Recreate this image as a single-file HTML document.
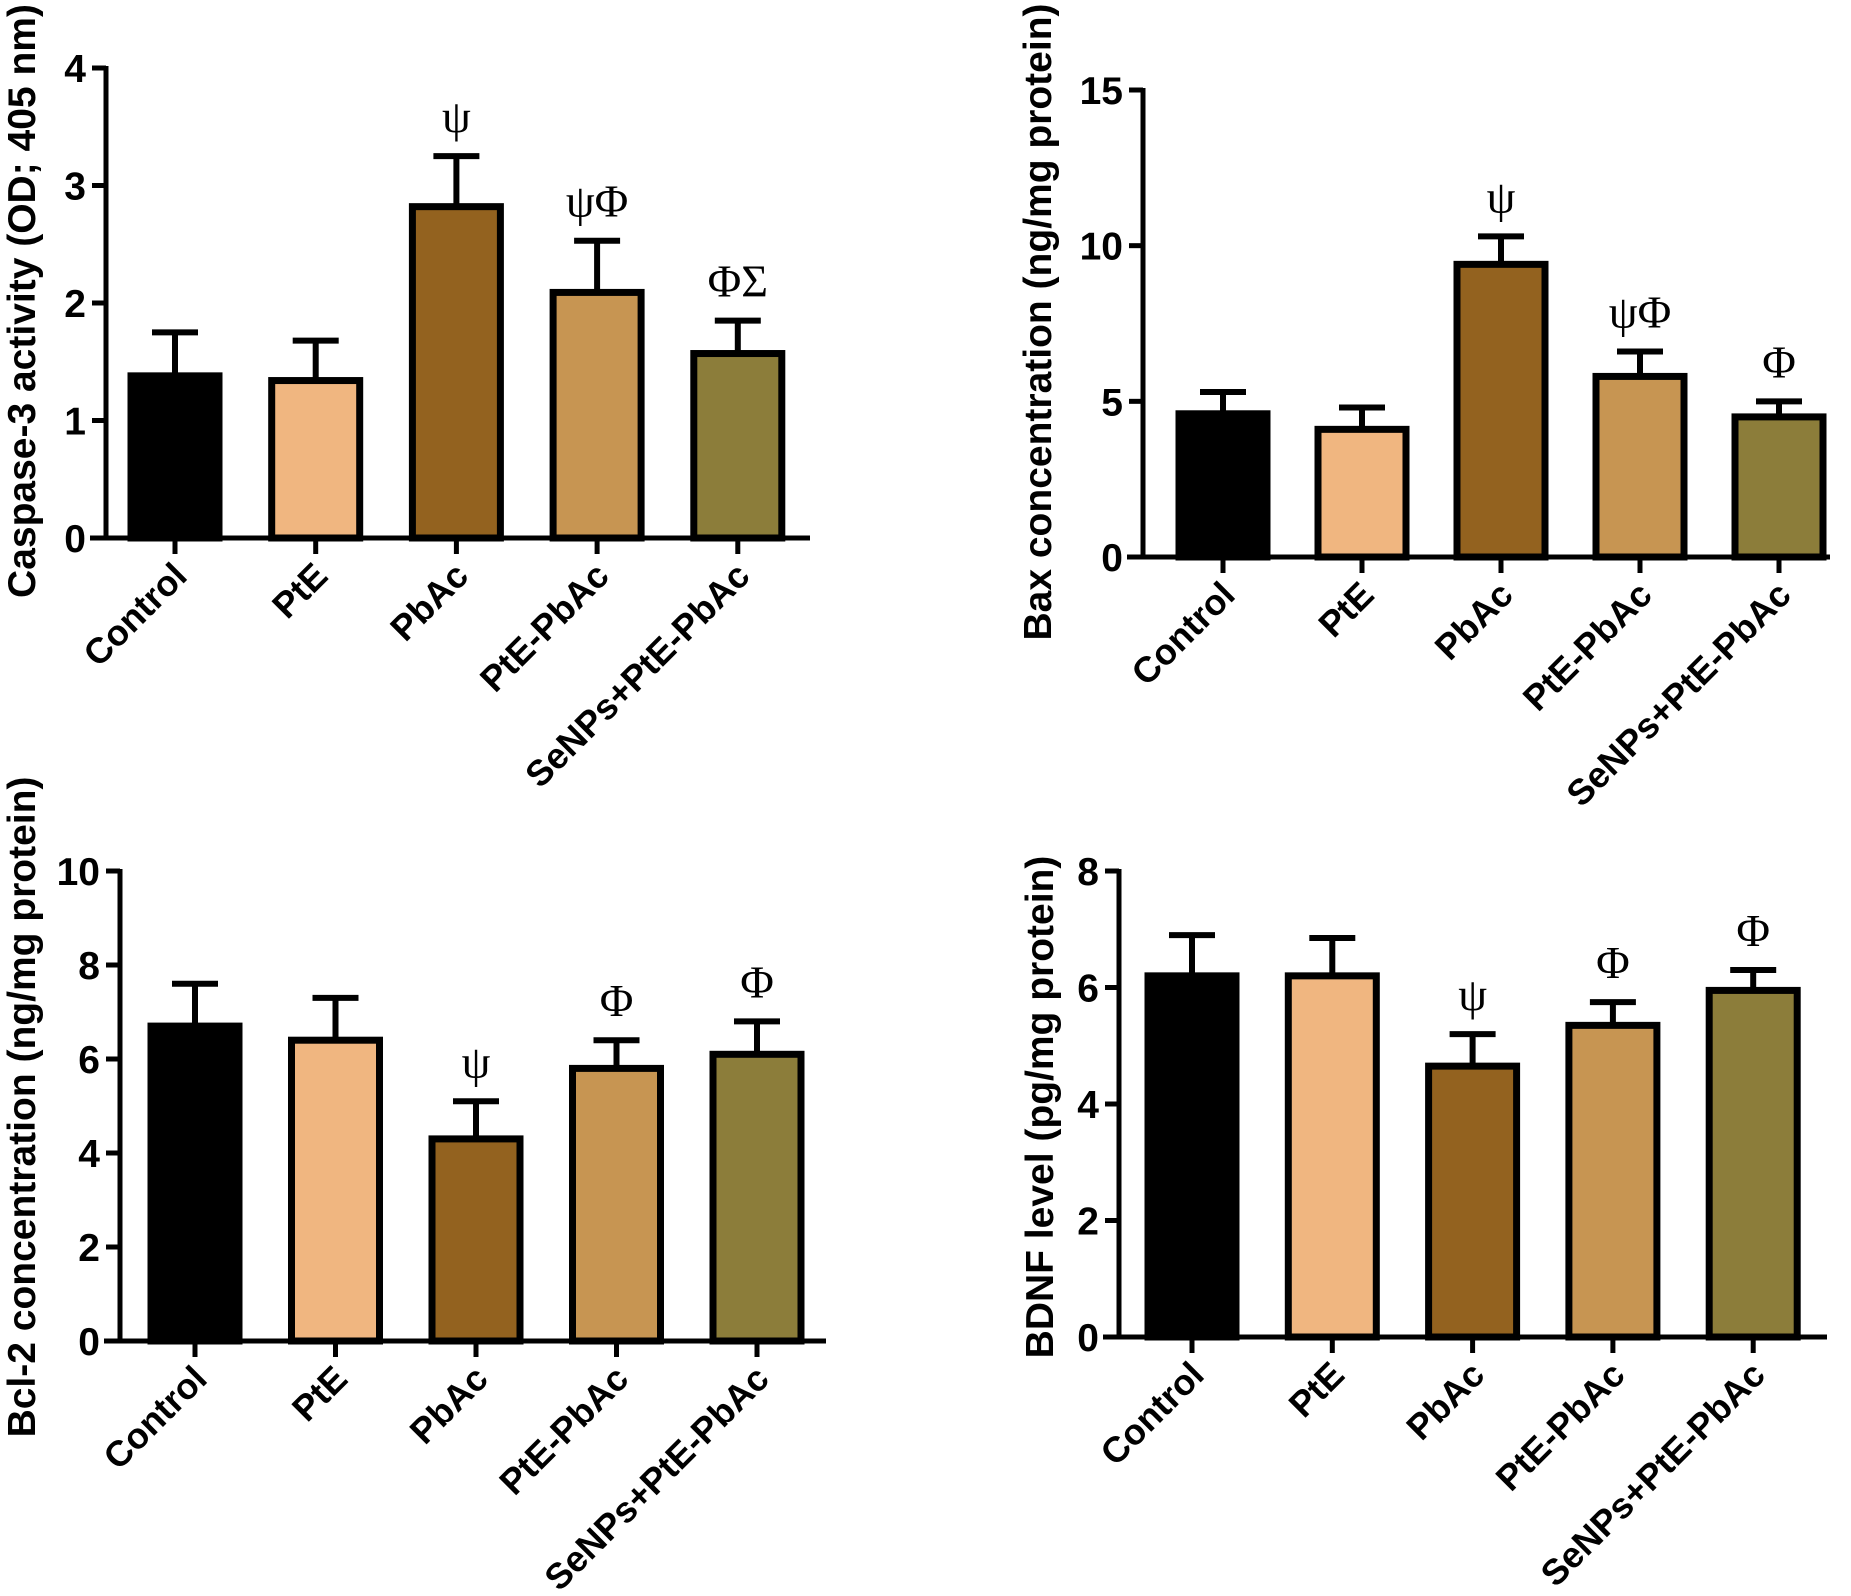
<!DOCTYPE html>
<html><head><meta charset="utf-8"><style>
html,body{margin:0;padding:0;background:#fff;}
svg{display:block;}
text{font-family:"Liberation Sans",Arial,sans-serif;font-weight:bold;fill:#000;}
.ann{font-family:"Liberation Serif","DejaVu Serif",serif;font-weight:normal;font-size:46px;}
</style></head><body>
<svg id="chart" width="1851" height="1596" viewBox="0 0 1851 1596"></svg>
<script>
const categories = ["Control","PtE","PbAc","PtE-PbAc","SeNPs+PtE-PbAc"];
const colors = ["#000000","#f0b680","#93621f","#c79552","#8c7d3a"];
const caspaseValues = [1.38,1.34,2.82,2.09,1.57];
const caspaseErr = [1.75,1.68,3.25,2.53,1.85];
const caspaseAnn = ["","","ψ","ψΦ","ΦΣ"];
const caspaseTicks = [0,1,2,3,4];
const baxValues = [4.6,4.1,9.4,5.8,4.5];
const baxErr = [5.3,4.8,10.3,6.6,5.0];
const baxAnn = ["","","ψ","ψΦ","Φ"];
const baxTicks = [0,5,10,15];
const bcl2Values = [6.7,6.4,4.3,5.8,6.1];
const bcl2Err = [7.6,7.3,5.1,6.4,6.8];
const bcl2Ann = ["","","ψ","Φ","Φ"];
const bcl2Ticks = [0,2,4,6,8,10];
const bdnfValues = [6.2,6.2,4.65,5.35,5.95];
const bdnfErr = [6.9,6.85,5.2,5.75,6.3];
const bdnfAnn = ["","","ψ","Φ","Φ"];
const bdnfTicks = [0,2,4,6,8];

const NS="http://www.w3.org/2000/svg";
const svg=document.getElementById('chart');
function mk(tag,attrs,parent){const e=document.createElementNS(NS,tag);for(const k in attrs)e.setAttribute(k,attrs[k]);(parent||svg).appendChild(e);return e;}

function drawPanel(p){
  const g=mk('g',{});
  
  
  const ymax=p.ticks[p.ticks.length-1];
  const y=v=>p.y0-(v/ymax)*(p.y0-p.yTop);
  const x=i=>p.x0+i*p.step;
  const bw=88;
  p.values.forEach((v,i)=>{
    const cx=x(i);
    const eb=mk('line',{x1:cx,x2:cx,y1:y(v),y2:y(p.err[i]),stroke:'#000','stroke-width':6},g);
    
    
    const cap=mk('line',{x1:cx-23,x2:cx+23,y1:y(p.err[i]),y2:y(p.err[i]),stroke:'#000','stroke-width':6},g);
    
    
    const r=mk('rect',{x:cx-bw/2,y:y(v),width:bw,height:p.y0-y(v),fill:colors[i],stroke:'#000','stroke-width':7},g);
    
    
    if(p.ann[i]){
      const t=mk('text',{x:cx,y:y(p.err[i])-24,'text-anchor':'middle','class':'ann'},g);
      t.textContent=p.ann[i];
      
      
    }
    const tk=mk('line',{x1:cx,x2:cx,y1:p.y0,y2:p.y0+16,stroke:'#000','stroke-width':5},g);
    
    
    const lx=cx+14, ly=p.y0+40;
    const lt=mk('text',{x:lx,y:ly,'text-anchor':'end','font-size':36,transform:`rotate(-45 ${lx} ${ly})`},g);
    lt.textContent=categories[i];
    
    
  });
  const ya=mk('line',{x1:p.xAxis,x2:p.xAxis,y1:p.yTop-2,y2:p.y0+2,stroke:'#000','stroke-width':5},g);
  
  
  const xa=mk('line',{x1:p.xAxis-16,x2:p.xEnd,y1:p.y0,y2:p.y0,stroke:'#000','stroke-width':5},g);
  
  
  p.ticks.forEach(t=>{
    const tl=mk('line',{x1:p.xAxis-14,x2:p.xAxis,y1:y(t),y2:y(t),stroke:'#000','stroke-width':5},g);
    
    
    const tx=mk('text',{x:p.xAxis-20,y:y(t)+14,'text-anchor':'end','font-size':39},g);
    tx.textContent=t;
    
    
  });
  const tt=mk('text',{x:p.titleX,y:p.titleY,'text-anchor':'middle','font-size':39,transform:`rotate(-90 ${p.titleX} ${p.titleY})`},g);
  tt.textContent=p.title;
  
  
}

drawPanel({name:'caspase-3-chart',values:caspaseValues,err:caspaseErr,ann:caspaseAnn,ticks:caspaseTicks,
  xAxis:106,xEnd:810,y0:538,yTop:68,x0:175,step:140.7,title:'Caspase-3 activity (OD; 405 nm)',titleX:35,titleY:301});
drawPanel({name:'bax-chart',values:baxValues,err:baxErr,ann:baxAnn,ticks:baxTicks,
  xAxis:1143,xEnd:1830,y0:557,yTop:90,x0:1223,step:139,title:'Bax concentration (ng/mg protein)',titleX:1051,titleY:322});
drawPanel({name:'bcl-2-chart',values:bcl2Values,err:bcl2Err,ann:bcl2Ann,ticks:bcl2Ticks,
  xAxis:120,xEnd:826,y0:1341,yTop:871,x0:195,step:140.5,title:'Bcl-2 concentration (ng/mg protein)',titleX:35,titleY:1107});
drawPanel({name:'bdnf-chart',values:bdnfValues,err:bdnfErr,ann:bdnfAnn,ticks:bdnfTicks,
  xAxis:1119,xEnd:1827,y0:1337,yTop:871,x0:1192,step:140.3,title:'BDNF level (pg/mg protein)',titleX:1053,titleY:1107});
</script>
</body></html>
